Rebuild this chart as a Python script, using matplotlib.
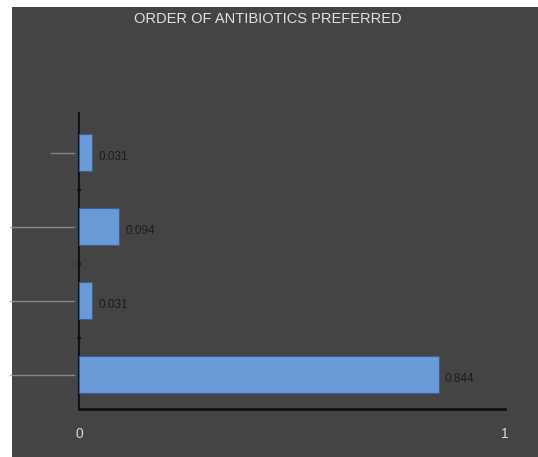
import matplotlib
matplotlib.use('Agg')
import matplotlib.pyplot as plt
import matplotlib.patches as mpatches
import matplotlib.transforms as mtransforms
import numpy as np

# bottom to top, as drawn
values = [0.844, 0.031, 0.094, 0.031]
value_labels = ['0.844', '0.031', '0.094', '0.031']
title = 'ORDER OF ANTIBIOTICS PREFERRED'
xticks = [0, 1]

BG = '#444444'
BAR = '#6a9bd9'
FONT = ['Liberation Sans Narrow', 'Liberation Sans', 'DejaVu Sans']

fig = plt.figure(figsize=(5.38, 4.57), dpi=100, facecolor='white')
# dark panel, with a thin white margin on the left and top
fig.patches.append(mpatches.Rectangle((12 / 538, 0), 1 - 12 / 538, 1 - 7 / 457,
                                      transform=fig.transFigure, facecolor=BG,
                                      edgecolor='none', zorder=-10))

ax = fig.add_axes([79 / 538, 1 - 409 / 457, 426 / 538, 296 / 457])
ax.set_facecolor('none')

y = np.arange(len(values))
ax.barh(y, values, height=0.5, color=BAR, edgecolor='#3d5f8f', linewidth=0.8, zorder=3)

for yi, v, lab in zip(y, values, value_labels):
    ax.text(v + 0.015, yi - 0.06, lab, va='center', ha='left', fontsize=8.5,
            color='#1c1c1c', family=FONT)

ax.set_xlim(0, 1)
ax.set_ylim(-0.46, 3.54)

ax.set_xticks(xticks)
ax.set_xticklabels([str(t) for t in xticks], family=FONT, fontsize=10, color='#d8d8d8')
ax.tick_params(axis='x', length=0, pad=13)

# category boundary ticks on the vertical axis
ax.set_yticks([])
ax.set_yticks(y[:-1] + 0.5, minor=True)
ax.tick_params(axis='y', which='minor', length=3, width=1.2, color='#111111', direction='inout')

# faded category label strokes to the left of the axis
trans = mtransforms.blended_transform_factory(ax.transAxes, ax.transData)
starts = [-0.162, -0.162, -0.162, -0.065]
for yi, s in zip(y, starts):
    ax.plot([s, -0.012], [yi, yi], color='#9a9a9a', lw=1.0, transform=trans,
            clip_on=False, alpha=0.8)

for side in ['top', 'right']:
    ax.spines[side].set_visible(False)
ax.spines['bottom'].set_color('#111111')
ax.spines['bottom'].set_linewidth(2)
ax.spines['left'].set_color('#111111')
ax.spines['left'].set_linewidth(1.5)

fig.text(268 / 538, 1 - 19 / 457, title, ha='center', va='center', fontsize=10.5,
         color='#e2e2e2', family=FONT)

fig.savefig('out.png', dpi=100, facecolor=fig.get_facecolor())
